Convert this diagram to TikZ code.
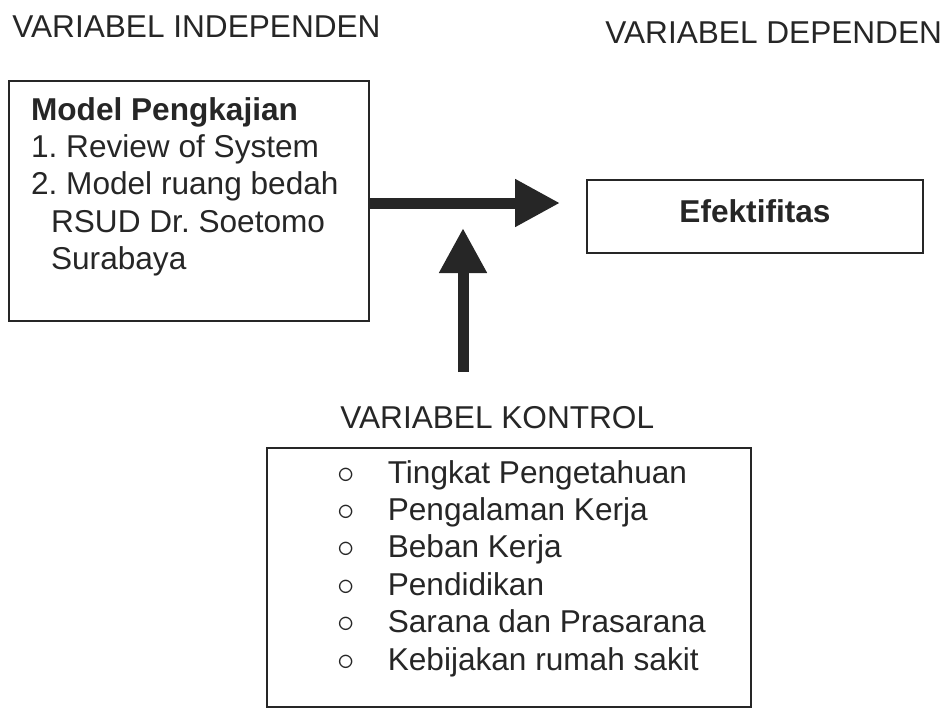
\documentclass[tikz,border=0pt]{standalone}
\usepackage{fontspec}
\setmainfont{Liberation Sans}
\usepackage{tikz}
\usetikzlibrary{arrows.meta}
\definecolor{ink}{RGB}{38,38,38}
\frenchspacing
\newcommand{\boxfont}{\fontsize{15.8}{18.7}\selectfont}
\newcommand{\ctrlitem}[1]{\leavevmode\hspace*{35.1pt}{\fontsize{17.5}{18.7}\selectfont$\circ$}\hspace*{16.6pt}#1\par}

\begin{document}
\begin{tikzpicture}[x=0.5pt, y=-0.5pt,
		frame/.style={draw=ink, line width=1.1pt, inner sep=0pt, font=\boxfont, text=ink},
		head/.style={anchor=base west, inner sep=0pt, font=\boxfont, text=ink},
		bigarr/.style={-{Triangle[length=22.5pt, width=22.5pt]}, line width=5.5pt, ink}]
		\useasboundingbox (0,0) rectangle (947,709);
		% headings
		\node[head] (hind) at (12,37) {VARIABEL INDEPENDEN};
		\node[head] (hdep) at (605,43) {VARIABEL DEPENDEN};
		\node[head] (hktr) at (340,428) {VARIABEL KONTROL};
		% boxes
		\node[frame, anchor=north west] (mdl) at (8,80)
			{\begin{minipage}[c][120pt][t]{180pt}\vspace*{8pt}
			\raggedright\leftskip=11pt
			\textbf{Model Pengkajian}\\
			1. Review of System\\
			2. Model ruang bedah\\
			\hspace*{10pt}RSUD Dr. Soetomo\\
			\hspace*{10pt}Surabaya\end{minipage}};
		\node[frame, minimum width=168pt, minimum height=36.5pt, text depth=5pt] (eff)
			at (755,216.5) {\textbf{Efektifitas}};
		\node[frame, anchor=north west] (ctl) at (266,447)
			{\begin{minipage}[c][129.5pt][t]{242pt}\vspace*{6pt}
			\ctrlitem{Tingkat Pengetahuan}
			\ctrlitem{Pengalaman Kerja}
			\ctrlitem{Beban Kerja}
			\ctrlitem{Pendidikan}
			\ctrlitem{Sarana dan Prasarana}
			\ctrlitem{Kebijakan rumah sakit}\end{minipage}};
		% arrows
		\coordinate (tipa) at (560,203);
		\coordinate (vbot) at (463,372);
		\coordinate (vtip) at (463,228);
		\draw[bigarr] (mdl.east |- tipa) -- (tipa);
		\draw[bigarr] (vbot) -- (vtip);
	\end{tikzpicture}
\end{document}
